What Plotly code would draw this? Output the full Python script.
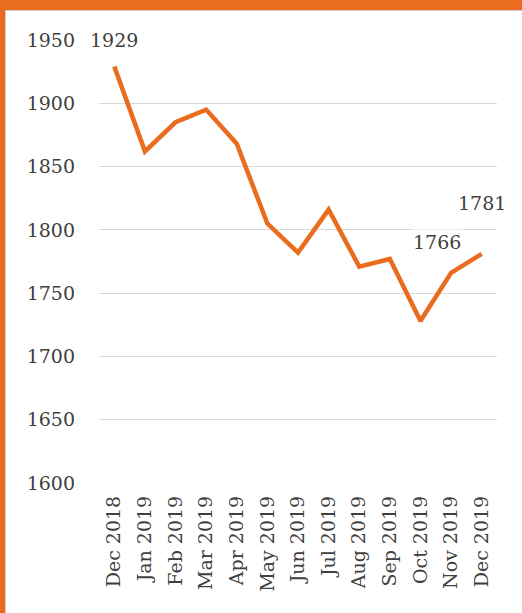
import plotly.graph_objects as go

months = ["Dec 2018", "Jan 2019", "Feb 2019", "Mar 2019", "Apr 2019", "May 2019",
          "Jun 2019", "Jul 2019", "Aug 2019", "Sep 2019", "Oct 2019", "Nov 2019", "Dec 2019"]
values = [1929, 1862, 1885, 1895, 1868, 1805, 1782, 1816, 1771, 1777, 1728, 1766, 1781]
y_ticks = [1600, 1650, 1700, 1750, 1800, 1850, 1900, 1950]
labelled = [0, 11, 12]

ORANGE = "#E96C1F"
TEXT = "#404040"
FONT = "DejaVu Serif"

fig = go.Figure()
fig.add_trace(go.Scatter(x=months, y=values, mode="lines",
                         line=dict(color=ORANGE, width=4.5), hoverinfo="skip"))

shifts = {0: (0, 27), 11: (-14, 31), 12: (0, 51)}
for i in labelled:
    dx, dy = shifts[i]
    fig.add_annotation(x=months[i], y=values[i], text=str(values[i]), showarrow=False,
                       xshift=dx, yshift=dy, bgcolor="white",
                       font=dict(family=FONT, size=19, color=TEXT))

# frame: orange bars on top and left with a faint gray inner shadow
fig.add_shape(type="rect", xref="paper", yref="paper", xsizemode="pixel", ysizemode="pixel",
              xanchor=0, yanchor=1, x0=-100, x1=430, y0=30, y1=45,
              fillcolor=ORANGE, line_width=0, layer="above")
fig.add_shape(type="rect", xref="paper", yref="paper", xsizemode="pixel", ysizemode="pixel",
              xanchor=0, yanchor=1, x0=-100, x1=-94, y0=-580, y1=45,
              fillcolor=ORANGE, line_width=0, layer="above")
fig.add_shape(type="line", xref="paper", yref="paper", xsizemode="pixel", ysizemode="pixel",
              xanchor=0, yanchor=1, x0=-93.5, x1=-93.5, y0=-580, y1=30,
              line=dict(color="#cfcfcf", width=1), layer="above")
fig.add_shape(type="line", xref="paper", yref="paper", xsizemode="pixel", ysizemode="pixel",
              xanchor=0, yanchor=1, x0=-93.5, x1=430, y0=29.5, y1=29.5,
              line=dict(color="#cfcfcf", width=1), layer="above")

fig.update_layout(
    width=522, height=613,
    margin=dict(l=99, r=25, t=40, b=130, autoexpand=False),
    paper_bgcolor="white", plot_bgcolor="white",
    showlegend=False,
    font=dict(family=FONT, color=TEXT, size=19),
    xaxis=dict(type="category", range=[-0.5, len(months) - 0.5],
               showgrid=False, showline=False, ticks="",
               tickangle=-90, tickfont=dict(family=FONT, size=19, color=TEXT),
               ticklabelstandoff=8, fixedrange=True, automargin=False),
    yaxis=dict(range=[1600, 1950], tickvals=y_ticks, showgrid=True,
               gridcolor="#d9d9d9", gridwidth=1, zeroline=False, showline=False,
               ticks="", tickfont=dict(family=FONT, size=19, color=TEXT),
               ticklabelstandoff=23, fixedrange=True, automargin=False),
)

fig.write_html("out.html", config={"displayModeBar": False},
               post_script="document.body.style.margin='0';document.body.style.overflow='hidden';")
